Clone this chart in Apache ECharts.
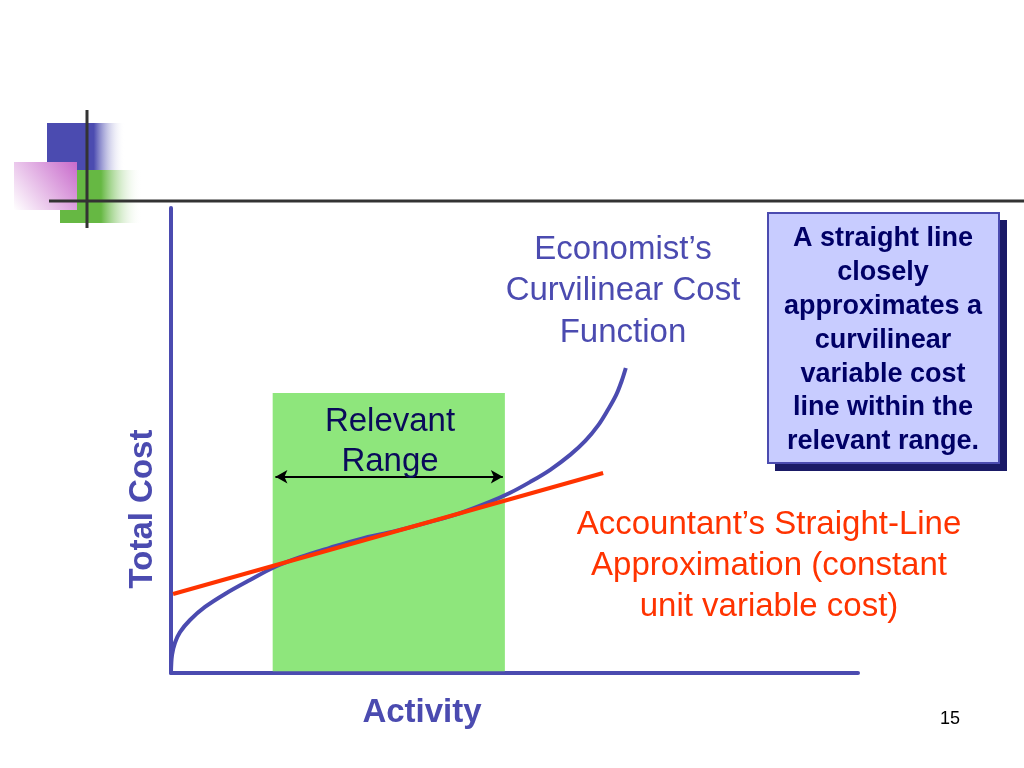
<!DOCTYPE html>
<html><head><meta charset="utf-8">
<script src="https://cdn.jsdelivr.net/npm/echarts@6/dist/echarts.min.js"></script>
<style>html,body{margin:0;padding:0;background:#fff}#c{width:1024px;height:768px}</style>
</head><body><div id="c"></div>
<script>
// Economist's curvilinear cost function (activity, total cost)
const curveX = [0, 0.15, 0.58, 1.31, 2.77, 4.95, 7.86, 11.5, 15.1, 18.8, 23.1, 27.5, 32.6, 37.7, 42.1, 46.4, 49.3, 52.3, 55.2, 58.1, 60.3, 62.2, 63.6, 64.8, 65.6, 66.2];
const curveY = [0.2, 3.9, 6.5, 8.8, 11.4, 14.2, 17.0, 20.0, 22.8, 24.9, 26.9, 28.8, 30.5, 32.5, 34.4, 36.8, 38.7, 41.1, 43.7, 46.9, 49.9, 53.3, 56.6, 59.8, 62.8, 65.6];
// Accountant's straight-line approximation
const lineX = [0.3, 62.9];
const lineY = [17.0, 43.0];
// Relevant range
const rangeX = [14.8, 48.6];
const rangeTop = 60.2;
const arrowY = 42.2;
const arrowX = [15.2, 48.3];

const blue = '#4B4BB0';
const fam = 'Liberation Sans';
function txt(x, y, text, size, weight, color, lh, extra, va) {
  return Object.assign({type: 'text', z: 60, x: x, y: y, style: {text: text, fontFamily: fam, fontSize: size, fontWeight: weight, fill: color, align: 'center', verticalAlign: va || 'top', lineHeight: lh}}, extra || {});
}
const chart = echarts.init(document.getElementById('c'));
chart.setOption({
  backgroundColor: '#fff',
  animation: false,
  grid: {left: 171, top: 208, right: 166, bottom: 95},
  xAxis: {type: 'value', min: 0, max: 100, axisLine: {lineStyle: {color: blue, width: 4}}, axisTick: {show: false}, axisLabel: {show: false}, splitLine: {show: false}},
  yAxis: {type: 'value', min: 0, max: 100, axisLine: {show: true, lineStyle: {color: blue, width: 4}}, axisTick: {show: false}, axisLabel: {show: false}, splitLine: {show: false}},
  series: [
    {type: 'line', data: [], z: 1,
     markArea: {silent: true, itemStyle: {color: '#8EE67C'}, data: [[{coord: [rangeX[0], rangeTop]}, {coord: [rangeX[1], 0.4]}]]},
     markLine: {silent: true, symbol: ['arrow', 'arrow'], symbolSize: [10, 12], lineStyle: {color: '#000', width: 2, type: 'solid'}, label: {show: false},
       data: [[{coord: [arrowX[0], arrowY]}, {coord: [arrowX[1], arrowY]}]]}},
    {type: 'line', data: curveX.map((x, i) => [x, curveY[i]]), smooth: 0.35, showSymbol: false, lineStyle: {color: blue, width: 4}, z: 3},
    {type: 'line', data: lineX.map((x, i) => [x, lineY[i]]), showSymbol: false, lineStyle: {color: '#FF3300', width: 4}, z: 4}
  ],
  graphic: {elements: [
    {type: 'rect', z: 50, shape: {x: 47, y: 123, width: 78, height: 47}, style: {fill: new echarts.graphic.LinearGradient(0, 0, 1, 0, [{offset: 0, color: blue}, {offset: 0.6, color: blue}, {offset: 1, color: 'rgba(255,255,255,0)'}])}},
    {type: 'rect', z: 50, shape: {x: 60, y: 170, width: 82, height: 53}, style: {fill: new echarts.graphic.LinearGradient(0, 0, 1, 0, [{offset: 0, color: '#66B843'}, {offset: 0.5, color: '#66B843'}, {offset: 1, color: 'rgba(255,255,255,0)'}])}},
    {type: 'rect', z: 50, shape: {x: 14, y: 162, width: 63, height: 48}, style: {fill: new echarts.graphic.LinearGradient(0, 1, 1, 0, [{offset: 0, color: '#FFFFFF'}, {offset: 1, color: '#C86ACB'}])}},
    {type: 'line', z: 50, shape: {x1: 87, y1: 110, x2: 87, y2: 228}, style: {stroke: '#333', lineWidth: 3}},
    {type: 'line', z: 50, shape: {x1: 49, y1: 201, x2: 1024, y2: 201}, style: {stroke: '#333', lineWidth: 3}},
    {type: 'rect', z: 50, shape: {x: 775, y: 220, width: 232, height: 251}, style: {fill: '#1A1A66'}},
    {type: 'rect', z: 51, shape: {x: 768, y: 213, width: 231, height: 250}, style: {fill: '#C8CCFF', stroke: blue, lineWidth: 2}},
    txt(883, 222, 'A straight line\nclosely\napproximates a\ncurvilinear\nvariable cost\nline within the\nrelevant range.', 27, 'bold', '#000066', 33.8),
    txt(623, 229, 'Economist\u2019s\nCurvilinear Cost\nFunction', 33, 'normal', blue, 41.5),
    txt(390, 402, 'Relevant\nRange', 33, 'normal', '#0A0A5A', 40),
    txt(769, 504, 'Accountant\u2019s Straight-Line\nApproximation (constant\nunit variable cost)', 33, 'normal', '#FF3300', 41),
    txt(422, 713, 'Activity', 33, 'bold', blue, 36, null, 'middle'),
    txt(143, 509, 'Total Cost', 33, 'bold', blue, 36, {rotation: Math.PI / 2}, 'middle'),
    txt(950, 719, '15', 18, 'normal', '#000', 22, null, 'middle')
  ]}
});
</script></body></html>
